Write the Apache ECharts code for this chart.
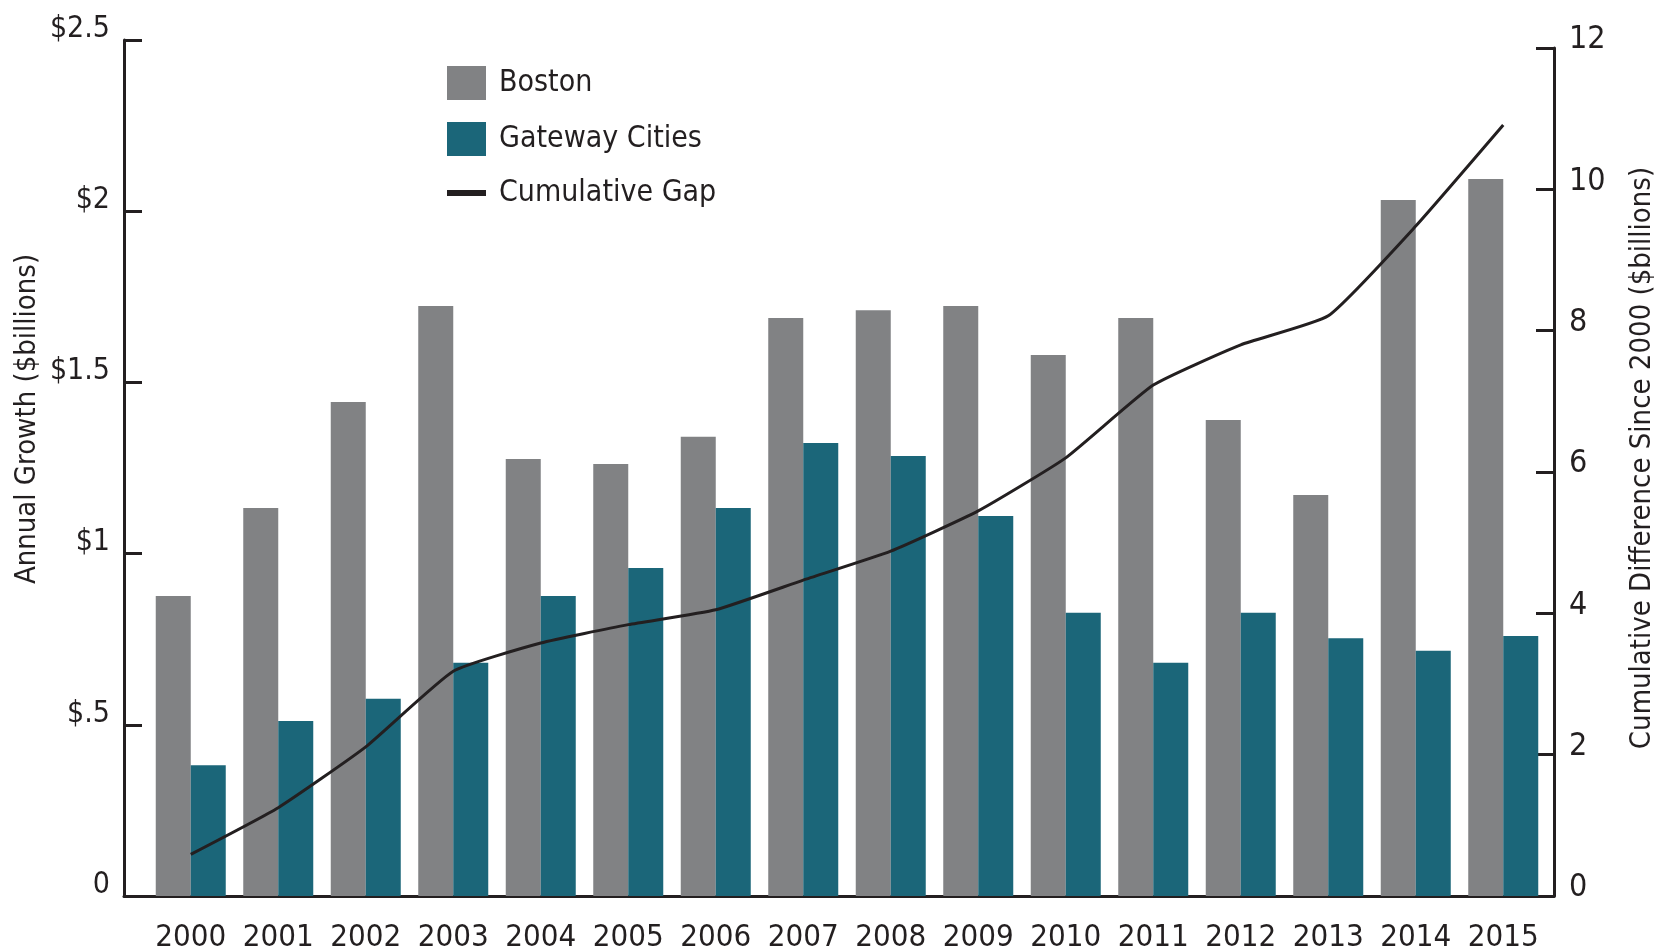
<!DOCTYPE html>
<html>
<head>
<meta charset="utf-8">
<title>Boston vs Gateway Cities</title>
<script src="https://cdn.jsdelivr.net/npm/echarts@6/dist/echarts.min.js"></script>
<style>
  html, body { margin: 0; padding: 0; background: #fff; }
  #chart { width: 1662px; height: 952px; }
</style>
</head>
<body>
<div id="chart"></div>
<script>
// values
const years = ["2000", "2001", "2002", "2003", "2004", "2005", "2006", "2007",
  "2008", "2009", "2010", "2011", "2012", "2013", "2014", "2015"];
const boston = [0.876, 1.133, 1.443, 1.723, 1.276, 1.262, 1.341, 1.688,
  1.711, 1.723, 1.580, 1.688, 1.390, 1.171, 2.033, 2.094];
const gateway = [0.382, 0.511, 0.576, 0.681, 0.876, 0.958, 1.133, 1.323,
  1.285, 1.110, 0.827, 0.681, 0.827, 0.753, 0.716, 0.759];
const cumulativeGap = [0.59, 1.25, 2.11, 3.18, 3.58, 3.84, 4.05, 4.47,
  4.88, 5.45, 6.20, 7.23, 7.80, 8.21, 9.48, 10.91];
const leftTicks = ["0", "$.5", "$1", "$1.5", "$2", "$2.5"];

const FONT = "'Liberation Sans Narrow', 'DejaVu Sans Condensed', sans-serif";
const INK = "#231f20";

const chart = echarts.init(document.getElementById("chart"));

const option = {
  backgroundColor: "#fff",
  animation: false,
  textStyle: { fontFamily: FONT, color: INK },
  legend: {
    orient: "vertical",
    left: 439,
    top: 61,
    itemWidth: 39,
    itemHeight: 34,
    itemGap: 22,
    textStyle: { fontFamily: FONT, fontSize: 30, color: INK, padding: [0, 0, 0, 8] },
    data: [
      { name: "Boston", icon: "rect" },
      { name: "Gateway Cities", icon: "rect" },
      {
        name: "Cumulative Gap",
        itemStyle: { color: "rgba(0,0,0,0)", borderColor: "rgba(0,0,0,0)", borderWidth: 0 },
        lineStyle: { color: INK, width: 6 }
      }
    ]
  },
  grid: [
    // frame: axis lines
    { left: 124, right: 108, top: 40, bottom: 56, outerBoundsMode: "none" },
    // bars
    { left: 147, right: 115, top: 40, bottom: 56, outerBoundsMode: "none" },
    // cumulative line
    { left: 147, right: 115, top: 48, bottom: 56, outerBoundsMode: "none" }
  ],
  xAxis: [
    {
      gridIndex: 0, type: "category", data: years,
      axisLine: { lineStyle: { color: INK, width: 3 } },
      axisTick: { show: false }, axisLabel: { show: false }
    },
    {
      gridIndex: 1, type: "category", data: years,
      axisLine: { show: false }, axisTick: { show: false },
      axisLabel: { fontFamily: FONT, fontSize: 31, color: INK, margin: 26, interval: 0 }
    },
    {
      gridIndex: 2, type: "category", data: years, show: false
    }
  ],
  yAxis: [
    {
      gridIndex: 0, type: "value", min: 0, max: 2.5, interval: 0.5,
      name: "Annual Growth ($billions)",
      nameLocation: "middle", nameRotate: 90, nameGap: 82, nameMoveOverlap: false,
      nameTextStyle: { fontFamily: FONT, fontSize: 29, color: INK, padding: [0, 0, 0, 98] },
      axisLine: { show: true, lineStyle: { color: INK, width: 3 } },
      axisTick: { show: true, inside: true, length: 18, lineStyle: { color: INK, width: 3 } },
      splitLine: { show: false },
      axisLabel: {
        fontFamily: FONT, fontSize: 30, color: INK, margin: 14,
        verticalAlign: "bottom", lineHeight: 22,
        formatter: (v) => leftTicks[Math.round(v / 0.5)]
      }
    },
    { gridIndex: 1, type: "value", min: 0, max: 2.5, show: false },
    {
      gridIndex: 2, type: "value", min: 0, max: 12, interval: 2, position: "right", offset: 7,
      name: "Cumulative Difference Since 2000 ($billions)",
      nameLocation: "middle", nameRotate: 90, nameGap: 74, nameMoveOverlap: false,
      nameTextStyle: { fontFamily: FONT, fontSize: 29, color: INK, padding: [0, 0, 0, 28] },
      axisLine: { show: true, lineStyle: { color: INK, width: 3 } },
      axisTick: { show: true, inside: true, length: 18, lineStyle: { color: INK, width: 3 } },
      splitLine: { show: false },
      axisLabel: {
        fontFamily: FONT, fontSize: 32, color: INK, margin: 15,
        verticalAlign: "bottom", lineHeight: 16
      }
    }
  ],
  series: [
    {
      name: "Boston", type: "bar", xAxisIndex: 1, yAxisIndex: 1,
      data: boston, barWidth: 35, barGap: "0%",
      itemStyle: { color: "#818284" }
    },
    {
      name: "Gateway Cities", type: "bar", xAxisIndex: 1, yAxisIndex: 1,
      data: gateway, barWidth: 35, barGap: "0%",
      itemStyle: { color: "#1b6679" }
    },
    {
      name: "Cumulative Gap", type: "line", xAxisIndex: 2, yAxisIndex: 2,
      data: cumulativeGap, symbol: "none", smooth: 0.15, z: 5,
      itemStyle: { color: INK },
      lineStyle: { color: INK, width: 3 }
    }
  ]
};

chart.setOption(option);
</script>
</body>
</html>
